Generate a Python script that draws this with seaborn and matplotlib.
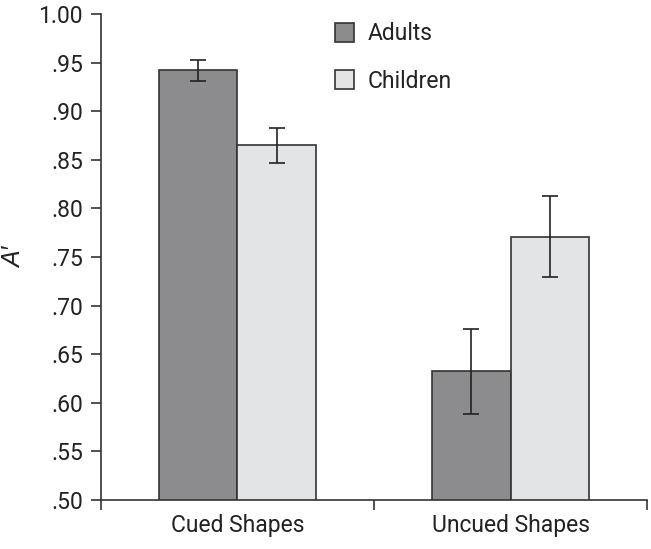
#!/usr/bin/env python3
import matplotlib
matplotlib.use('Agg')
import matplotlib.pyplot as plt
import numpy as np
import pandas as pd
import seaborn as sns

sns.set_theme(style='white')
plt.rcParams['font.family'] = ['Roboto', 'DejaVu Sans']

conditions = ['Cued Shapes', 'Uncued Shapes']
groups = ['Adults', 'Children']
adults = [0.942, 0.633]
children = [0.865, 0.771]
adults_lo = [0.931, 0.588]
adults_hi = [0.953, 0.676]
children_lo = [0.847, 0.729]
children_hi = [0.883, 0.813]
y_ticks = [0.50, 0.55, 0.60, 0.65, 0.70, 0.75, 0.80, 0.85, 0.90, 0.95, 1.00]
y_labels = ['.50', '.55', '.60', '.65', '.70', '.75', '.80', '.85', '.90', '.95', '1.00']

df = pd.DataFrame({
    'condition': conditions * 2,
    'group': [groups[0]] * 2 + [groups[1]] * 2,
    'score': adults + children,
    'lo': adults_lo + children_lo,
    'hi': adults_hi + children_hi,
})

fig = plt.figure(figsize=(6.51, 5.49), dpi=100)
ax = fig.add_axes([0.155, 0.0893, 0.839, 0.8852])

sns.barplot(
    data=df, x='condition', y='score', hue='group', order=conditions,
    hue_order=groups, palette=['#8b8c8f', '#e3e4e6'], width=0.572,
    errorbar=None, edgecolor='#333333', linewidth=1.2, ax=ax,
)

# error bars at the centres of the drawn bars
bars = [p for p in ax.patches if p.get_height() > 0][:4]
for p, (_, row) in zip(bars, df.iterrows()):
    xc = p.get_x() + p.get_width() / 2
    ax.errorbar(
        xc, row['score'],
        yerr=[[row['score'] - row['lo']], [row['hi'] - row['score']]],
        fmt='none', ecolor='#222222', elinewidth=1.2, capsize=6, capthick=1.2,
    )

fs = 16.5
ax.set_ylim(0.5, 1.0)
ax.set_xlim(-0.5, 1.5)
ax.set_yticks(y_ticks)
ax.set_yticklabels(y_labels, fontsize=fs, color='#222222')
ax.set_xticks([0, 1])
ax.set_xticklabels(conditions, fontsize=fs, color='#222222')
ax.set_xticks([-0.5, 0.5, 1.5], minor=True)
ax.tick_params(axis='x', which='major', length=0, pad=10)
ax.tick_params(axis='x', which='minor', length=7, width=1.2, color='#333333', direction='out', bottom=True)
ax.tick_params(axis='y', length=7, width=1.2, color='#333333', direction='out', left=True, pad=6)
ax.set_xlabel('')
ax.set_ylabel('A\u2032', fontsize=18, style='italic', color='#222222',
              family=['Liberation Sans', 'DejaVu Sans'])
ax.yaxis.set_label_coords(-0.137, 0.5)

for side in ['top', 'right']:
    ax.spines[side].set_visible(False)
for side in ['left', 'bottom']:
    ax.spines[side].set_color('#333333')
    ax.spines[side].set_linewidth(1.2)

leg = ax.legend(
    loc='upper left', bbox_to_anchor=(0.39, 1.025), frameon=False, fontsize=fs,
    handlelength=0.85, handleheight=0.85, handletextpad=0.6, labelspacing=1.05,
)
for t in leg.get_texts():
    t.set_color('#222222')

fig.savefig('out.png', dpi=100)
